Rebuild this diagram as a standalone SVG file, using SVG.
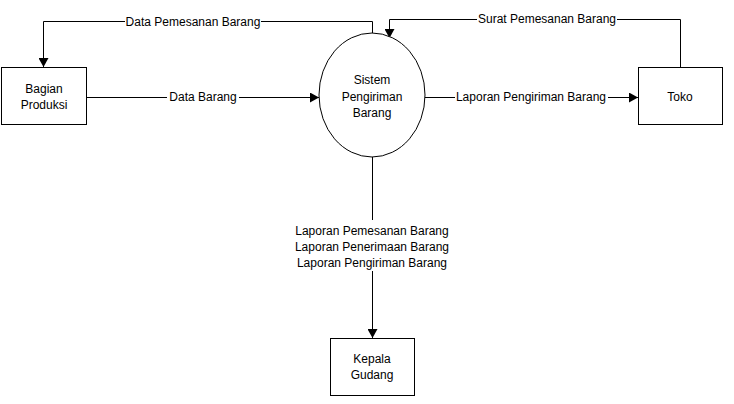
<svg xmlns="http://www.w3.org/2000/svg" width="734" height="404" viewBox="0 0 734 404">
  <style>
    .box { fill: #ffffff; stroke: #000000; stroke-width: 1; }
    .flow { fill: none; stroke: #000000; stroke-width: 1; }
    text { font-family: "Liberation Sans", Arial, sans-serif; font-size: 12px; fill: #000000; text-anchor: middle; dominant-baseline: central; }
    .lbl { fill: #ffffff; stroke: none; }
  </style>
  <defs>
    <marker id="arrow" markerWidth="10" markerHeight="10" refX="9" refY="5" orient="auto" markerUnits="userSpaceOnUse">
      <path d="M0,0 L9,5 L0,10 Z" fill="#000000"/>
    </marker>
  </defs>
  <rect width="734" height="404" fill="#ffffff"/>

  <g id="connectors">
    <!-- Sistem -> Bagian Produksi -->
    <polyline class="flow" points="372.5,34 372.5,21.5 43.5,21.5 43.5,67" marker-end="url(#arrow)"/>
    <rect class="lbl" x="125" y="14" width="136" height="15"/>
    <text x="193" y="21.5">Data Pemesanan Barang</text>

    <!-- Bagian Produksi -> Sistem -->
    <line class="flow" x1="86" y1="97.5" x2="319" y2="97.5" marker-end="url(#arrow)"/>
    <rect class="lbl" x="167" y="90" width="72" height="15"/>
    <text x="203" y="97">Data Barang</text>

    <!-- Toko -> Sistem -->
    <polyline class="flow" points="680.5,67 680.5,19.5 389.5,19.5 389.5,38" marker-end="url(#arrow)"/>
    <rect class="lbl" x="477" y="12" width="140" height="15"/>
    <text x="547" y="19">Surat Pemesanan Barang</text>

    <!-- Sistem -> Toko -->
    <line class="flow" x1="425" y1="97.5" x2="638" y2="97.5" marker-end="url(#arrow)"/>
    <rect class="lbl" x="455" y="90" width="153" height="15"/>
    <text x="531" y="97">Laporan Pengiriman Barang</text>

    <!-- Sistem -> Kepala Gudang -->
    <line class="flow" x1="372.5" y1="157" x2="372.5" y2="338" marker-end="url(#arrow)"/>
    <rect class="lbl" x="294" y="220" width="157" height="51"/>
    <text x="372" y="231">Laporan Pemesanan Barang</text>
    <text x="372" y="247">Laporan Penerimaan Barang</text>
    <text x="372" y="263">Laporan Pengiriman Barang</text>
  </g>

  <g id="bagian-produksi">
    <rect class="box" x="1.5" y="67.5" width="85" height="57"/>
    <text x="44" y="89">Bagian</text>
    <text x="44" y="105">Produksi</text>
  </g>

  <g id="sistem-pengiriman">
    <ellipse class="box" cx="372" cy="95" rx="53" ry="62"/>
    <text x="372" y="80">Sistem</text>
    <text x="372" y="97">Pengiriman</text>
    <text x="372" y="113">Barang</text>
  </g>

  <g id="toko">
    <rect class="box" x="638.5" y="67.5" width="84" height="57"/>
    <text x="680" y="97">Toko</text>
  </g>

  <g id="kepala-gudang">
    <rect class="box" x="330.5" y="338.5" width="84" height="57"/>
    <text x="372" y="359">Kepala</text>
    <text x="372" y="375">Gudang</text>
  </g>
</svg>
